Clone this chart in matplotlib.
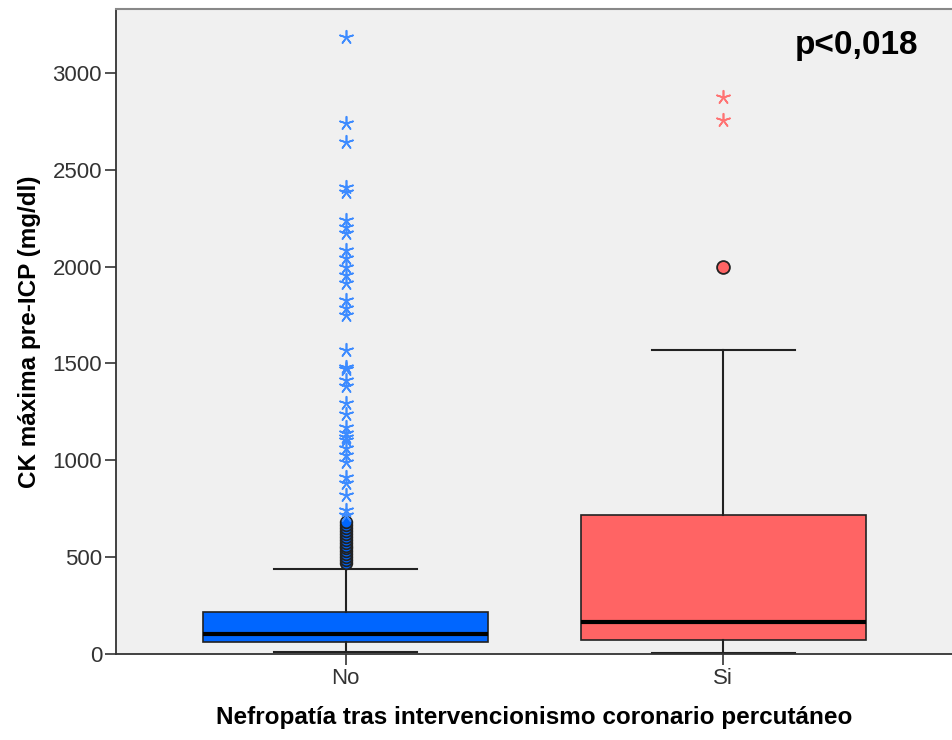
import matplotlib.pyplot as plt

# group labels and box statistics (CK, mg/dl)
groups = ['No', 'Si']
q1 = [62, 72]
median = [103, 165]
q3 = [217, 718]
whisker_low = [10, 5]
whisker_high = [439, 1570]

# outliers (circles) and extreme values (stars) per group
no_outliers = [470, 485, 500, 515, 530, 545, 560, 575, 590, 605, 620, 635, 650, 665, 680]
no_extremes = [718, 744, 821, 881, 915, 993, 1027, 1062, 1105, 1120, 1140, 1174,
               1239, 1298, 1384, 1415, 1472, 1483, 1570, 1750, 1785, 1828, 1914,
               1957, 2000, 2043, 2086, 2172, 2206, 2241, 2387, 2413, 2642, 2740, 3187]
si_outliers = [1998]
si_extremes = [2757, 2876]

fill_colors = ['#0066ff', '#ff6464']
star_colors = ['#3d8bff', '#ff7373']

plt.rcParams['font.family'] = ['Liberation Sans', 'DejaVu Sans']

fig = plt.figure(figsize=(9.53, 7.40), dpi=100)
ax = fig.add_axes([0.1217, 0.1162, 0.8783, 0.8716])
ax.set_facecolor('#f0f0f0')

stats = []
for i, g in enumerate(groups):
    stats.append({'label': g, 'q1': q1[i], 'med': median[i], 'q3': q3[i],
                  'whislo': whisker_low[i], 'whishi': whisker_high[i], 'fliers': []})

bp = ax.bxp(stats, positions=[1, 2], widths=0.754, patch_artist=True,
            showfliers=False,
            boxprops=dict(edgecolor='#222222', linewidth=1.2),
            medianprops=dict(color='black', linewidth=3),
            whiskerprops=dict(color='#222222', linewidth=1.5),
            capprops=dict(color='#222222', linewidth=1.5))
for patch, c in zip(bp['boxes'], fill_colors):
    patch.set_facecolor(c)

outliers = [no_outliers, si_outliers]
extremes = [no_extremes, si_extremes]
for i in range(len(groups)):
    pos = i + 1
    ax.scatter([pos] * len(outliers[i]), outliers[i], s=85 if i else 70,
               facecolor=fill_colors[i], edgecolor='#222222', linewidth=1.3, zorder=4)
    ax.scatter([pos] * len(extremes[i]), extremes[i], s=95, marker=(5, 2, 0),
               color=star_colors[i], linewidth=1.2, zorder=4)

ax.set_xlim(0.392, 2.608)
ax.set_ylim(0, 3330)
ax.set_yticks([0, 500, 1000, 1500, 2000, 2500, 3000])
ax.set_xticks([1, 2])
ax.set_xticklabels(groups)
ax.tick_params(axis='both', length=8, width=1.2, color='#333333',
               labelsize=16, labelcolor='#333333', pad=2)

for side in ['left', 'bottom']:
    ax.spines[side].set_color('#333333')
    ax.spines[side].set_linewidth(1.3)
ax.spines['top'].set_color('#888888')
ax.spines['top'].set_linewidth(1.5)
ax.spines['right'].set_visible(False)

ax.set_ylabel('CK máxima pre-ICP (mg/dl)', fontsize=17.5, fontweight='bold', labelpad=8)
ax.set_xlabel('Nefropatía tras intervencionismo coronario percutáneo',
              fontsize=17.5, fontweight='bold', labelpad=12)
ax.text(0.958, 0.944, 'p<0,018', transform=ax.transAxes, ha='right', va='center',
        fontsize=24, fontweight='bold')

fig.savefig('out.png', dpi=100)
